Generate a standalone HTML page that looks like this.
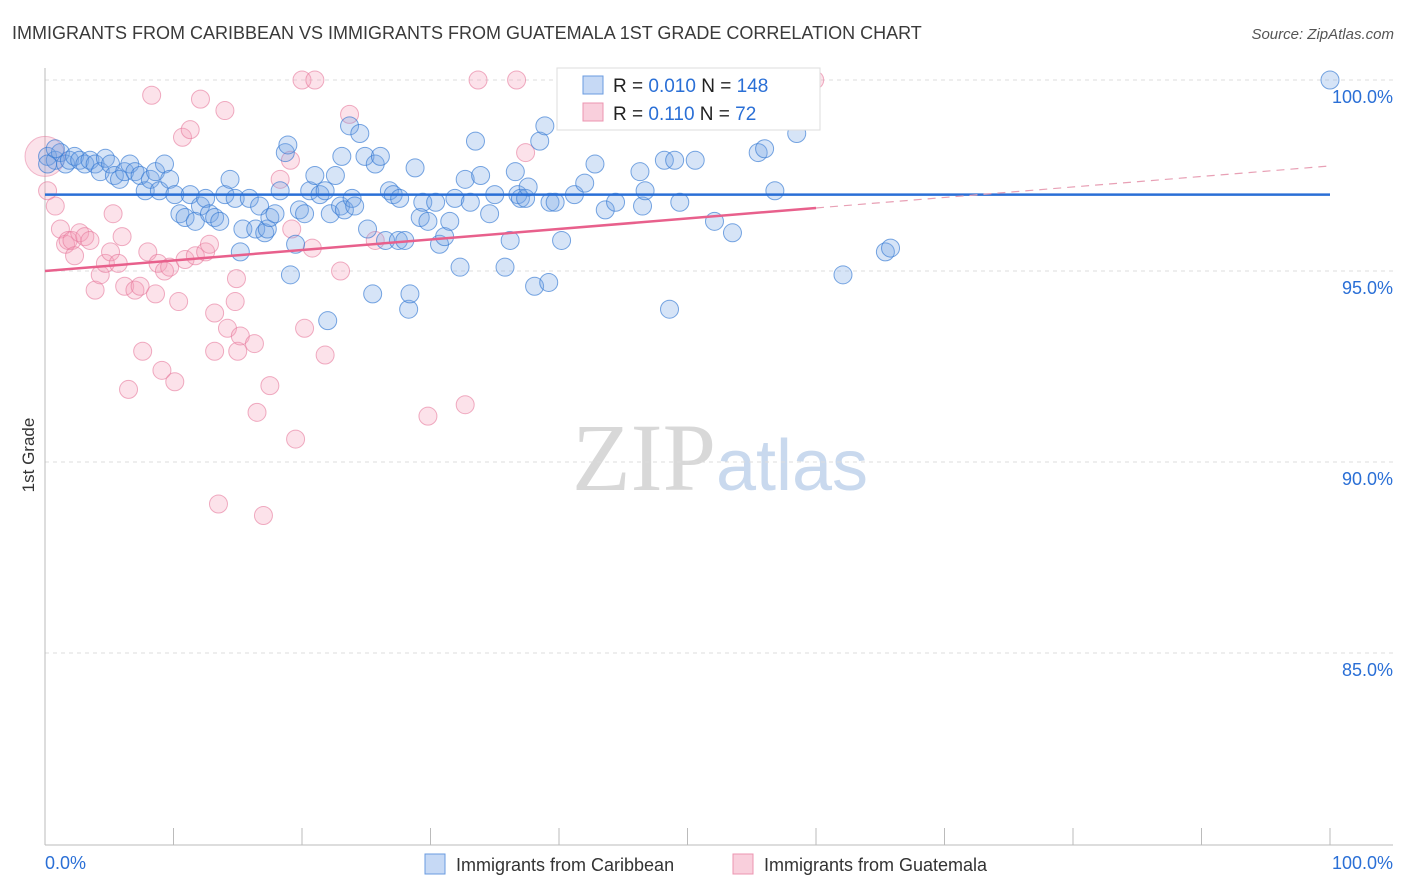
<!DOCTYPE html>
<html><head><meta charset="utf-8"><style>
body{margin:0;background:#fff;font-family:"Liberation Sans",sans-serif}
svg{display:block}
</style></head><body>
<svg id="chart" width="1406" height="892" xmlns="http://www.w3.org/2000/svg">
<text x="12" y="39" font-size="18" fill="#3a3a3a">IMMIGRANTS FROM CARIBBEAN VS IMMIGRANTS FROM GUATEMALA 1ST GRADE CORRELATION CHART</text>
<text x="1394" y="39" font-size="15" fill="#555" text-anchor="end" font-style="italic">Source: ZipAtlas.com</text>
<text x="720" y="490" font-size="96" text-anchor="middle" font-family="Liberation Serif" fill="#d8d8d8">ZIP<tspan fill="#c9d9ee" font-family="Liberation Sans" font-size="72">atlas</tspan></text>
<text transform="translate(34,455) rotate(-90)" font-size="17" fill="#333" text-anchor="middle">1st Grade</text>
<g id="grid"></g><g id="ticks"></g>
<line x1="45" y1="845" x2="1393" y2="845" stroke="#bbb"/>
<line x1="45" y1="68" x2="45" y2="845" stroke="#bbb"/>
<g id="pink"></g><g id="blue"></g><g id="trends"></g>
<g>
<rect x="557" y="68" width="263" height="62" fill="#fff" stroke="#ddd"/>
<rect x="583" y="76" width="20" height="18" fill="#c6d9f5" stroke="#6a9be0"/>
<rect x="583" y="103" width="20" height="18" fill="#f9cfdc" stroke="#ec94b0"/>
<text x="613" y="92" font-size="19" fill="#222">R = <tspan fill="#2a6fd6">0.010</tspan>   N = <tspan fill="#2a6fd6">148</tspan></text>
<text x="613" y="120" font-size="19" fill="#222">R =  <tspan fill="#2a6fd6">0.110</tspan>   N =  <tspan fill="#2a6fd6">72</tspan></text>
</g>
<g>
<rect x="425" y="854" width="20" height="20" fill="#c6d9f5" stroke="#6a9be0"/>
<text x="456" y="871" font-size="18" fill="#333">Immigrants from Caribbean</text>
<rect x="733" y="854" width="20" height="20" fill="#f9cfdc" stroke="#ec94b0"/>
<text x="764" y="871" font-size="18" fill="#333">Immigrants from Guatemala</text>
</g>
<text x="45" y="869" font-size="18" fill="#2a6fd6">0.0%</text>
<text x="1393" y="869" font-size="18" fill="#2a6fd6" text-anchor="end">100.0%</text>
</svg>
<script>
const yTicks=[100,95,90,85];
const xTicks=[0,10,20,30,40,50,60,70,80,90,100];
const blue=[[0.2,98.0],[0.8,97.9],[1.2,98.1],[1.6,97.8],[1.9,97.9],[2.3,98.0],[2.7,97.9],[3.1,97.8],[3.5,97.9],[3.9,97.8],[4.3,97.6],[4.7,97.95],[5.1,97.8],[5.4,97.5],[5.8,97.4],[6.2,97.6],[6.6,97.8],[7.0,97.6],[7.4,97.5],[7.8,97.1],[8.2,97.4],[8.6,97.6],[8.9,97.1],[9.3,97.8],[9.7,97.4],[10.1,97.0],[10.5,96.5],[10.9,96.4],[11.3,97.0],[11.7,96.3],[12.1,96.7],[12.5,96.9],[12.8,96.5],[13.2,96.4],[13.6,96.3],[14.0,97.0],[14.4,97.4],[14.8,96.9],[15.2,95.5],[15.4,96.1],[15.9,96.9],[16.4,96.1],[16.7,96.7],[17.1,96.0],[17.3,96.1],[17.5,96.4],[17.9,96.5],[18.3,97.1],[18.7,98.1],[18.9,98.3],[19.1,94.9],[19.5,95.7],[19.8,96.6],[20.2,96.5],[20.6,97.1],[21.0,97.5],[21.4,97.0],[21.8,97.1],[22.0,93.7],[22.2,96.5],[22.6,97.5],[23.0,96.7],[23.1,98.0],[23.3,96.6],[23.7,98.8],[23.9,96.9],[24.1,96.7],[24.5,98.6],[24.9,98.0],[25.1,96.1],[25.5,94.4],[25.7,97.8],[26.1,98.0],[26.5,95.8],[26.8,97.1],[27.1,97.0],[27.5,95.8],[27.6,96.9],[28.0,95.8],[28.3,94.0],[28.4,94.4],[28.8,97.7],[29.2,96.4],[29.4,96.8],[29.8,96.3],[30.4,96.8],[30.7,95.7],[31.1,95.9],[31.5,96.3],[31.9,96.9],[32.3,95.1],[32.7,97.4],[33.1,96.8],[33.5,98.4],[33.9,97.5],[34.6,96.5],[35.0,97.0],[35.8,95.1],[36.2,95.8],[36.6,97.6],[36.8,97.0],[37.0,96.9],[37.4,96.9],[37.6,97.2],[38.1,94.6],[38.5,98.4],[38.9,98.8],[39.2,94.7],[39.3,96.8],[39.7,96.8],[40.2,95.8],[41.2,97.0],[42.0,97.3],[42.8,97.8],[43.6,96.6],[44.4,96.8],[46.3,97.6],[46.5,96.7],[46.7,97.1],[48.2,97.9],[48.6,94.0],[49.0,97.9],[49.4,96.8],[50.6,97.9],[52.1,100.0],[52.1,96.3],[53.5,96.0],[55.5,98.1],[56.0,98.2],[56.8,97.1],[58.5,98.6],[62.1,94.9],[65.4,95.5],[65.8,95.6],[0.2,97.8],[0.8,98.2],[100,100]];
const pink=[[0.2,97.1],[0.8,96.7],[1.2,96.1],[1.6,95.7],[1.8,95.8],[2.1,95.8],[2.3,95.4],[2.7,96.0],[3.1,95.9],[3.5,95.8],[3.9,94.5],[4.3,94.9],[4.7,95.2],[5.1,95.5],[5.3,96.5],[5.7,95.2],[6.0,95.9],[6.2,94.6],[6.5,91.9],[7.0,94.5],[7.4,94.6],[7.6,92.9],[8.0,95.5],[8.3,99.6],[8.6,94.4],[8.8,95.2],[9.1,92.4],[9.3,95.0],[9.7,95.1],[10.1,92.1],[10.4,94.2],[10.7,98.5],[10.9,95.3],[11.3,98.7],[11.7,95.4],[12.1,99.5],[12.5,95.5],[12.8,95.7],[13.2,93.9],[13.2,92.9],[13.5,88.9],[14.0,99.2],[14.2,93.5],[14.8,94.2],[14.9,94.8],[15.0,92.9],[15.2,93.3],[16.3,93.1],[16.5,91.3],[17.0,88.6],[17.5,92.0],[18.3,97.4],[19.1,97.9],[19.2,96.1],[19.5,90.6],[20.0,100],[20.2,93.5],[21.0,100],[20.8,95.6],[21.8,92.8],[23.0,95.0],[23.7,99.1],[25.7,95.8],[29.8,91.2],[32.7,91.5],[33.7,100],[36.7,100],[37.4,98.1],[59.9,100]];
const bigPink=[0,98.0];
const blueTrend=[[0,97.0],[100,97.0]];
const pinkTrend=[[0,95.0],[60,96.65]];
const pinkTrendExt=[[60,96.65],[100,97.75]];
const X=v=>45+v*12.85, Y=v=>80+(100-v)*38.2;
const NS="http://www.w3.org/2000/svg";
function mk(tag,attrs,parent){const e=document.createElementNS(NS,tag);for(const k in attrs)e.setAttribute(k,attrs[k]);document.getElementById(parent).appendChild(e);return e;}
yTicks.forEach(t=>{
 const l=mk('line',{x1:45,x2:1393,y1:Y(t),y2:Y(t),stroke:'#ddd','stroke-dasharray':'4,4'},'grid');
 
 
 const tx=mk('text',{x:1393,y:Y(t)+23,'font-size':18,fill:'#2a6fd6','text-anchor':'end'},'grid');
 tx.textContent=t.toFixed(1)+'%';
 
 
});
xTicks.forEach(t=>{
 const l=mk('line',{x1:X(t),x2:X(t),y1:828,y2:845,stroke:'#bbb'},'ticks');
 
 
});
{const c=mk('circle',{cx:X(bigPink[0]),cy:Y(bigPink[1]),r:20,fill:'rgba(240,140,170,0.25)',stroke:'rgba(230,120,155,0.5)'},'pink');

}
pink.forEach(p=>{
 const c=mk('circle',{cx:X(p[0]),cy:Y(p[1]),r:9,fill:'rgba(245,160,185,0.3)',stroke:'rgba(230,120,155,0.6)'},'pink');
 
 
});
blue.forEach(p=>{
 const c=mk('circle',{cx:X(p[0]),cy:Y(p[1]),r:9,fill:'rgba(120,165,230,0.3)',stroke:'rgba(50,120,210,0.65)'},'blue');
 
 
});
{const l=mk('line',{x1:X(blueTrend[0][0]),y1:Y(blueTrend[0][1]),x2:X(blueTrend[1][0]),y2:Y(blueTrend[1][1]),stroke:'#2a6fd6','stroke-width':2.5},'trends');

}
{const l=mk('line',{x1:X(pinkTrend[0][0]),y1:Y(pinkTrend[0][1]),x2:X(pinkTrend[1][0]),y2:Y(pinkTrend[1][1]),stroke:'#e8608c','stroke-width':2.5},'trends');

}
{const l=mk('line',{x1:X(pinkTrendExt[0][0]),y1:Y(pinkTrendExt[0][1]),x2:X(pinkTrendExt[1][0]),y2:Y(pinkTrendExt[1][1]),stroke:'#e8a0b5','stroke-width':1.2,'stroke-dasharray':'8,6'},'trends');

}
</script>
</body></html>
